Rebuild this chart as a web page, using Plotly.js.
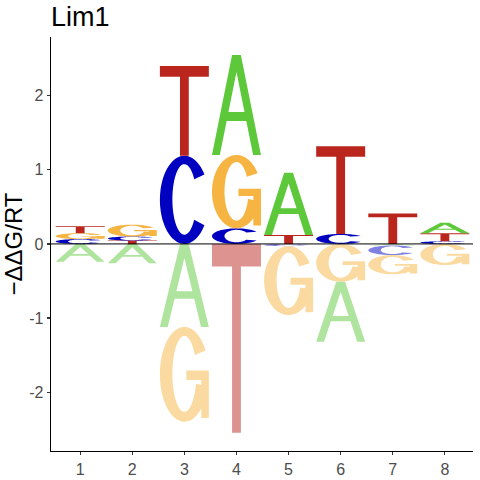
<!DOCTYPE html>
<html><head><meta charset="utf-8">
<script src="https://cdn.plot.ly/plotly-3.0.1.min.js"></script>
<style>html,body{margin:0;padding:0;background:#fff}</style>
</head><body><div id="chart" style="width:480px;height:480px"></div>
<script>
// ---- data ----
const positions = [1, 2, 3, 4, 5, 6, 7, 8];
const tickLabels = ['1', '2', '3', '4', '5', '6', '7', '8'];
const valA = [-0.24, -0.26, -1.12, 1.35, 0.84, -0.81, -0.02, 0.14];
const valC = [0.065, 0.055, 1.19, 0.21, -0.03, 0.135, -0.13, 0.035];
const valG = [0.08, 0.16, -1.28, 0.99, -0.93, -0.51, -0.26, -0.285];
const valT = [0.095, 0.045, 1.21, -2.55, 0.12, 1.185, 0.41, 0.11];
const yTickVals = [-2, -1, 0, 1, 2];
const yTickText = ['-2', '-1', '0', '1', '2'];
const titleText = 'Lim1';
const yTitleText = '\u2212\u0394\u0394G/RT';

// ---- styles ----
const colorsPos = {A: '#5DC93A', C: '#0000C0', G: '#F6B442', T: '#BA261E'};
const colorsNeg = {A: '#AEE49D', C: '#8080E0', G: '#FBDAA1', T: '#DD938F'};
const letterWidth = 0.94;

// ---- glyph outlines in a unit box ----
function arc(cx, cy, rx, ry, a0, a1, n) {
  const pts = [];
  for (let k = 0; k <= n; k++) {
    const t = (a0 + (a1 - a0) * k / n) * Math.PI / 180;
    pts.push([cx + rx * Math.cos(t), cy + ry * Math.sin(t)]);
  }
  return pts;
}
function ring(a0, a1) {
  return arc(0.5, 0.5, 0.5, 0.5, a0, a1, 72).concat(arc(0.5, 0.505, 0.245, 0.4, a1, a0, 72));
}
const glyphs = {
  T: [[[0, 1], [0, 0.88], [0.41, 0.88], [0.41, 0], [0.59, 0], [0.59, 0.88], [1, 0.88], [1, 1]]],
  A: [
    [[0, 0], [0.16, 0], [0.2994, 0.34], [0.7006, 0.34], [0.84, 0], [1, 0], [0.59, 1], [0.41, 1]],
    [[0.3363, 0.43], [0.5, 0.829], [0.6637, 0.43]]
  ],
  C: [ring(35, 325)],
  G: [
    ring(30, 345),
    [[0.54, 0.44], [1, 0.44], [1, 0.54], [0.54, 0.54]],
    [[0.845, 0.04], [1, 0.04], [1, 0.54], [0.845, 0.54]]
  ]
};

function glyphPath(letter, x0, y0, w, h) {
  return glyphs[letter].map(poly =>
    'M' + poly.map(p => (x0 + p[0] * w).toFixed(5) + ',' + (y0 + p[1] * h).toFixed(5)).join('L') + 'Z'
  ).join(' ');
}

const shapes = [];
const series = {A: valA, C: valC, G: valG, T: valT};
positions.forEach((pos, i) => {
  const items = Object.keys(series).map(l => ({l, v: series[l][i]}));
  const pos_ = items.filter(d => d.v > 0).sort((a, b) => a.v - b.v);
  const neg_ = items.filter(d => d.v < 0).sort((a, b) => b.v - a.v);
  let base = 0;
  pos_.forEach(d => {
    shapes.push({type: 'path', xref: 'x', yref: 'y', layer: 'above', fillrule: 'nonzero',
      path: glyphPath(d.l, pos - letterWidth / 2, base, letterWidth, d.v),
      fillcolor: colorsPos[d.l], line: {width: 0}});
    base += d.v;
  });
  base = 0;
  neg_.forEach(d => {
    shapes.push({type: 'path', xref: 'x', yref: 'y', layer: 'above', fillrule: 'nonzero',
      path: glyphPath(d.l, pos - letterWidth / 2, base + d.v, letterWidth, -d.v),
      fillcolor: colorsNeg[d.l], line: {width: 0}});
    base += d.v;
  });
});
// baseline at zero
shapes.push({type: 'line', xref: 'paper', x0: 0, x1: 1, yref: 'y', y0: 0, y1: 0,
  line: {color: '#000', width: 1}, layer: 'above'});

const data = [{type: 'scatter', x: positions, y: positions.map(() => 0), mode: 'markers',
  marker: {opacity: 0}, hoverinfo: 'skip', showlegend: false}];

const axisCommon = {showline: true, linecolor: '#000', linewidth: 1.3, ticks: 'outside', ticklen: 3,
  tickwidth: 1.2, tickcolor: '#333', tickfont: {size: 16, color: '#4D4D4D'}, showgrid: false,
  zeroline: false, fixedrange: true};

const layout = {
  width: 480, height: 480,
  margin: {l: 51, r: 7, t: 37, b: 29},
  paper_bgcolor: '#fff', plot_bgcolor: '#fff',
  font: {family: 'Liberation Sans, Arial, sans-serif', color: '#000'},
  showlegend: false,
  title: {text: titleText, font: {size: 27, color: '#000'}, x: 0, xref: 'paper', xanchor: 'left',
    y: 1 - 17 / 480, yref: 'container', yanchor: 'middle'},
  xaxis: Object.assign({range: [0.44, 8.54], tickmode: 'array', tickvals: positions, ticktext: tickLabels}, axisCommon),
  yaxis: Object.assign({range: [-2.795, 2.793], tickmode: 'array', tickvals: yTickVals, ticktext: yTickText,
    title: {text: yTitleText, font: {size: 24, color: '#000'}, standoff: 4}}, axisCommon),
  shapes: shapes
};

Plotly.newPlot('chart', data, layout, {displayModeBar: false, staticPlot: true});
</script>
</body></html>
